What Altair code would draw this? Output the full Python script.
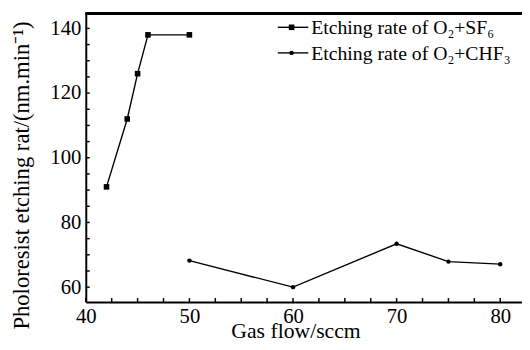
import altair as alt
import pandas as pd

# ---- data ----
sf6_flow = [42, 44, 45, 46, 50]
sf6_rate = [91, 112, 126, 138, 138]
chf3_flow = [50, 60, 70, 75, 80]
chf3_rate = [68.2, 60, 73.4, 67.9, 67.1]
series_names = ["Etching rate of O₂+SF₆", "Etching rate of O₂+CHF₃"]
x_labels = [40, 50, 60, 70, 80]
y_labels = [60, 80, 100, 120, 140]
x_ticks = [40 + 2.5 * i for i in range(17)]
y_ticks = [60 + 5 * i for i in range(17)]

FONT = "Liberation Serif"
W, H = 443, 293
XDOM = [40, 82.1]
YDOM = [55.4, 144.6]

df = pd.DataFrame(
    {"flow": sf6_flow + chf3_flow,
     "rate": sf6_rate + chf3_rate,
     "series": [series_names[0]] * len(sf6_flow) + [series_names[1]] * len(chf3_flow)}
)

xs = alt.Scale(domain=XDOM, nice=False, zero=False)
ys = alt.Scale(domain=YDOM, nice=False, zero=False)
shape_scale = alt.Scale(domain=series_names, range=["square", "circle"])
size_scale = alt.Scale(domain=series_names, range=[32, 20])

x_axis = alt.Axis(values=x_labels, title="Gas flow/sccm", tickSize=0, labelPadding=4,
                  labelFlush=False, labelFontSize=21, titleFontSize=22,
                  domain=True, domainColor="black", domainWidth=2, grid=False,
                  titleX=213, titleY=36, titleBaseline="alphabetic", titleAnchor="middle")
y_axis = alt.Axis(values=y_labels, title="Pholoresist etching rat/(nm.min⁻¹)", tickSize=0,
                  labelPadding=5, labelFontSize=21, titleFontSize=23,
                  domain=True, domainColor="black", domainWidth=2, grid=False,
                  titleX=-58, titleY=164, titleBaseline="alphabetic", titleAngle=270)

base = alt.Chart(df)
lines = base.mark_line(color="black", strokeWidth=1.4).encode(
    x=alt.X("flow:Q", scale=xs, axis=x_axis),
    y=alt.Y("rate:Q", scale=ys, axis=y_axis),
    detail="series:N",
)
points = base.mark_point(filled=True, color="black", opacity=1).encode(
    x=alt.X("flow:Q", scale=xs),
    y=alt.Y("rate:Q", scale=ys),
    shape=alt.Shape("series:N", scale=shape_scale, legend=None),
    size=alt.Size("series:N", scale=size_scale, legend=None),
)

xt = pd.DataFrame({"v": x_ticks})
yt = pd.DataFrame({"v": y_ticks})
xtick_marks = alt.Chart(xt).mark_rule(color="black", strokeWidth=1.5).encode(
    x=alt.X("v:Q", scale=xs),
    y=alt.value(H),
    y2=alt.value(H - 4),
)
ytick_marks = alt.Chart(yt).mark_rule(color="black", strokeWidth=1.5).encode(
    y=alt.Y("v:Q", scale=ys),
    x=alt.value(0),
    x2=alt.value(4),
)
top_line = alt.Chart(df).mark_rule(color="black", strokeWidth=2).encode(
    x=alt.value(0), x2=alt.value(W), y=alt.value(0)
)

leg = pd.DataFrame({"series": series_names})
legend_layers = []
for i, name in enumerate(series_names):
    ly = 14 + 26 * i
    ld = alt.Chart(leg).transform_filter(alt.datum.series == name)
    legend_layers.append(ld.mark_rule(color="black", strokeWidth=1.4).encode(
        x=alt.value(195), x2=alt.value(226), y=alt.value(ly)))
    legend_layers.append(ld.mark_point(filled=True, color="black", opacity=1).encode(
        x=alt.value(209), y=alt.value(ly),
        shape=alt.Shape("series:N", scale=shape_scale, legend=None),
        size=alt.Size("series:N", scale=size_scale, legend=None)))
    legend_layers.append(ld.mark_text(align="left", baseline="middle", font=FONT, fontSize=20,
                                      color="black", dy=1).encode(
        x=alt.value(229), y=alt.value(ly), text="series:N"))

chart = alt.layer(
    lines, points, xtick_marks, ytick_marks, top_line, *legend_layers
).properties(
    width=W, height=H,
    autosize=alt.AutoSizeParams(type="none"),
    padding={"left": 79, "top": 3, "right": 0, "bottom": 38},
).configure_view(stroke=None).configure_axis(
    labelFont=FONT, titleFont=FONT,
    labelColor="black", titleColor="black", titleFontWeight="normal",
)

chart.save("out.html", embed_options={"renderer": "svg", "actions": False})
